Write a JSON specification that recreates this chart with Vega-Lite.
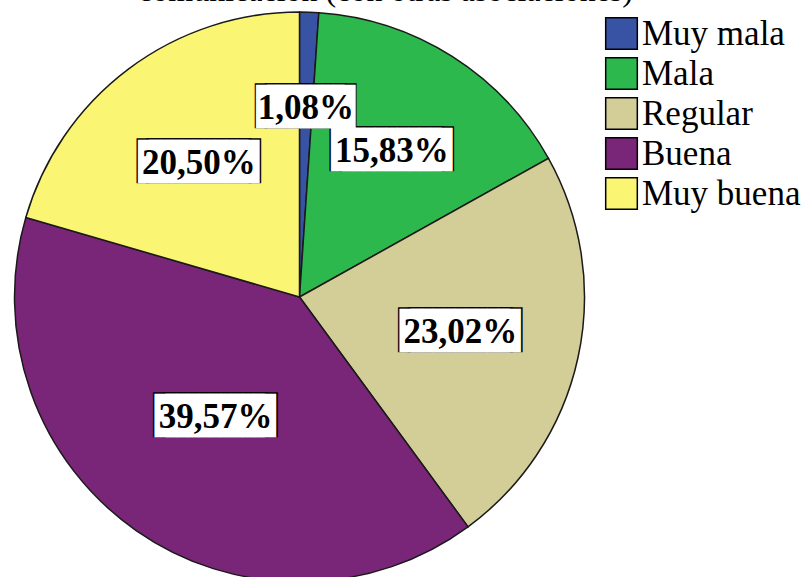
{
  "$schema": "https://vega.github.io/schema/vega-lite/v6.json",
  "width": 599,
  "height": 594,
  "autosize": {"type": "none"},
  "padding": {"left": 0, "top": 0, "right": 209, "bottom": 0},
  "background": "white",
  "title": {
    "text": "comunicación (con otras asociaciones)",
    "font": "Liberation Serif",
    "fontSize": 32,
    "fontWeight": "normal",
    "color": "black",
    "anchor": "middle",
    "baseline": "alphabetic",
    "offset": -20,
    "dy": 13,
    "dx": 86
  },
  "data": {
    "values": [
      {"cat": "Muy mala", "pct": 1.08, "ord": 1, "label": "1,08%"},
      {"cat": "Mala", "pct": 15.83, "ord": 2, "label": "15,83%"},
      {"cat": "Regular", "pct": 23.02, "ord": 3, "label": "23,02%"},
      {"cat": "Buena", "pct": 39.57, "ord": 4, "label": "39,57%"},
      {"cat": "Muy buena", "pct": 20.50, "ord": 5, "label": "20,50%"}
    ]
  },
  "encoding": {
    "theta": {"field": "pct", "type": "quantitative", "stack": true},
    "order": {"field": "ord", "type": "quantitative"}
  },
  "layer": [
    {
      "mark": {"type": "arc", "outerRadius": 285, "stroke": "#1a1a1a", "strokeWidth": 1.5},
      "encoding": {
        "color": {
          "field": "cat",
          "type": "nominal",
          "sort": ["Muy mala", "Mala", "Regular", "Buena", "Muy buena"],
          "scale": {
            "domain": ["Muy mala", "Mala", "Regular", "Buena", "Muy buena"],
            "range": ["#3953a4", "#2db84d", "#d3ce97", "#7a2678", "#fbf574"]
          },
          "legend": {
            "title": null,
            "orient": "none",
            "legendX": 604,
            "legendY": 16,
            "symbolType": "square",
            "symbolSize": 1000,
            "symbolStrokeColor": "black",
            "symbolStrokeWidth": 1.5,
            "symbolOpacity": 1,
            "labelFont": "Liberation Serif",
            "labelFontSize": 35,
            "labelColor": "black",
            "labelOffset": 3,
            "labelLimit": 300,
            "rowPadding": 1
          }
        }
      }
    },
    {
      "mark": {"type": "text", "font": "DejaVu Sans Mono", "fontSize": 38, "dx": -4.8, "color": "black", "baseline": "middle"},
      "encoding": {
        "radius": {"field": "pct", "type": "quantitative", "scale": {"type": "linear", "domain": [0, 40], "range": [190, 146], "zero": false}},
        "text": {"condition": {"test": "datum.cat === 'Muy mala'", "value": "████"}, "value": "█████"}
      }
    },
    {
      "mark": {"type": "text", "font": "DejaVu Sans Mono", "fontSize": 38, "dx": 4.8, "color": "black", "baseline": "middle"},
      "encoding": {
        "radius": {"field": "pct", "type": "quantitative"},
        "text": {"condition": {"test": "datum.cat === 'Muy mala'", "value": "████"}, "value": "█████"}
      }
    },
    {
      "mark": {"type": "text", "font": "DejaVu Sans Mono", "fontSize": 36.5, "dx": -5.5, "color": "white", "baseline": "middle"},
      "encoding": {
        "radius": {"field": "pct", "type": "quantitative"},
        "text": {"condition": {"test": "datum.cat === 'Muy mala'", "value": "████"}, "value": "█████"}
      }
    },
    {
      "mark": {"type": "text", "font": "DejaVu Sans Mono", "fontSize": 36.5, "dx": 5.5, "color": "white", "baseline": "middle"},
      "encoding": {
        "radius": {"field": "pct", "type": "quantitative"},
        "text": {"condition": {"test": "datum.cat === 'Muy mala'", "value": "████"}, "value": "█████"}
      }
    },
    {
      "mark": {"type": "text", "font": "Liberation Serif", "fontSize": 35, "fontWeight": "bold", "color": "black", "baseline": "middle"},
      "encoding": {
        "radius": {"field": "pct", "type": "quantitative"},
        "text": {"field": "label", "type": "nominal"}
      }
    }
  ]
}
